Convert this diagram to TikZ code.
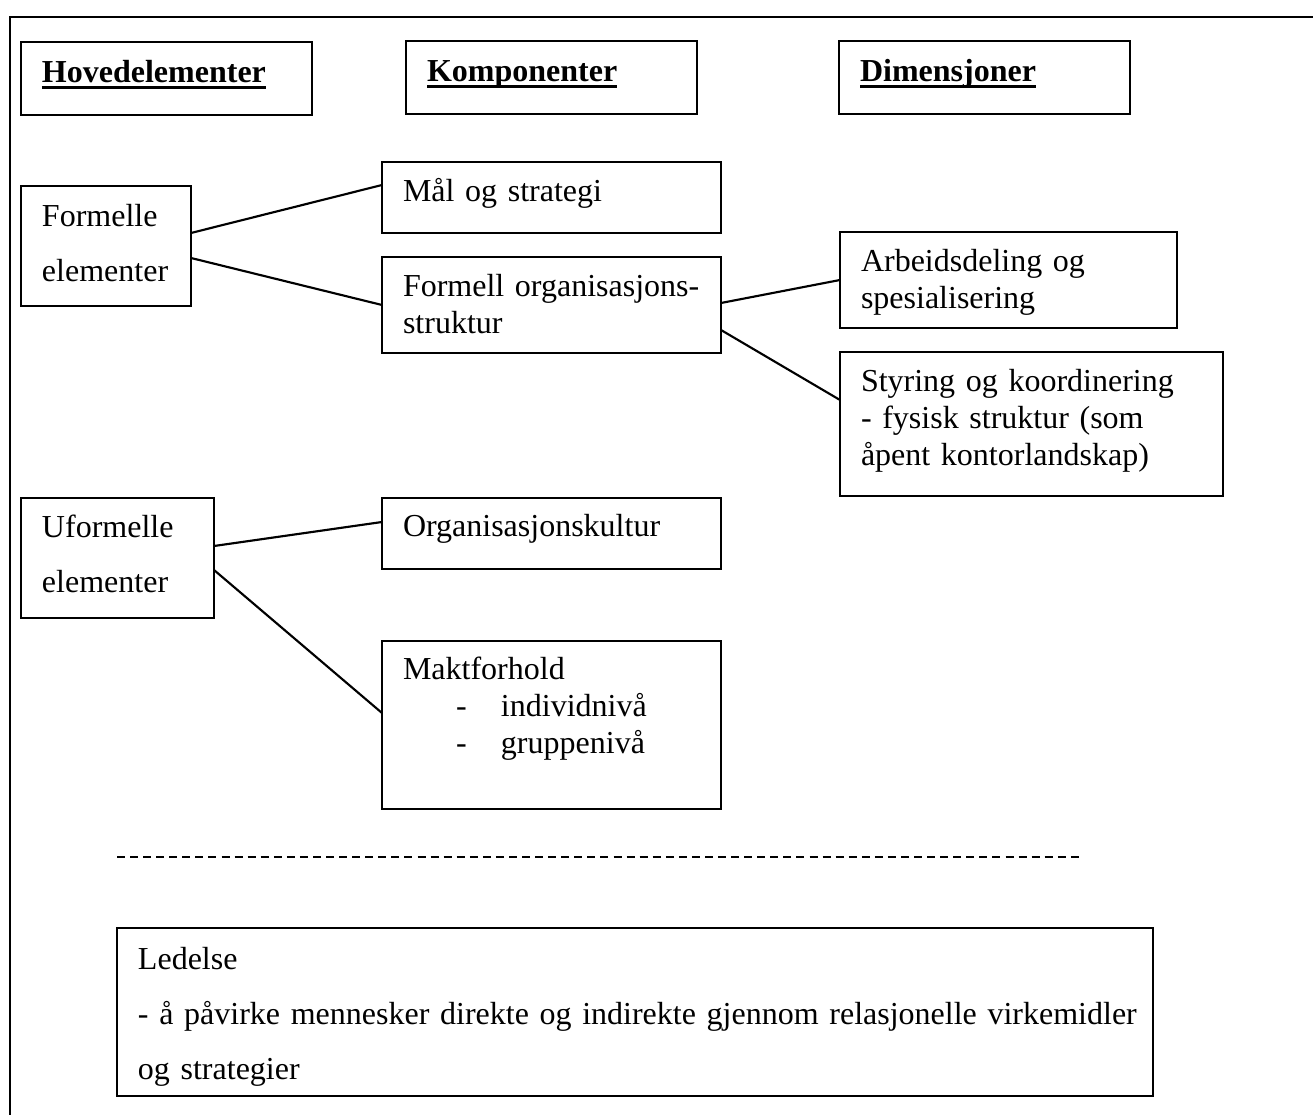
\documentclass[tikz,border=0pt]{standalone}
\usepackage{fontspec}
\setmainfont{Liberation Serif}
\usepackage{tikz}
\usetikzlibrary{calc}
\newlength{\pxu}
\setlength{\pxu}{0.375pt}
\newsavebox{\ulbox}
\newcommand{\ulword}[1]{\sbox{\ulbox}{\textbf{#1}}\rlap{\usebox{\ulbox}}\rule[-2.4pt]{\wd\ulbox}{1.1pt}}
\hyphenpenalty=10000
\exhyphenpenalty=10000
\hbadness=10000
\hfuzz=20pt

\begin{document}
\begin{tikzpicture}[
  x=0.375pt, y=-0.375pt,
  box/.style={
    draw, line width=1pt, anchor=north west,
    inner xsep=21\pxu, inner ysep=0pt, outer sep=0pt,
    align=left, text height=40\pxu,
    font=\fontsize{12}{13.7}\selectfont
  },
  headbox/.style={box, text width=249\pxu, text height=41\pxu, text depth=32\pxu},
  twoline/.style={font=\fontsize{12}{20.6}\selectfont},
  link/.style={line width=0.8pt},
  frameline/.style={line width=1.1pt},
  splitline/.style={line width=0.8pt, dash pattern=on 3pt off 1.9pt},
]
\useasboundingbox (0,0) rectangle (1313,1115);
% Frame
\draw[frameline] (10,1115) -- (10,17) -- (1313,17);
% Header row
\node[headbox] (hoved) at (21,42)  {\ulword{Hovedelementer}};
\node[headbox] (komp)  at (406,41) {\ulword{Komponenter}};
\node[headbox] (dim)   at (839,41) {\ulword{Dimensjoner}};
% Formelle elementer
\node[box, twoline, text width=128\pxu, text height=41\pxu, text depth=79\pxu] (formelle) at (21,186) {Formelle\\elementer};
\node[box, text width=297\pxu, text depth=31\pxu] (mal) at (382,162) {Mål og strategi};
\node[box, text width=297\pxu, text depth=56\pxu] (formorg) at (382,257) {Formell organisasjons-\\struktur};
\node[box, text width=295\pxu, text depth=56\pxu] (arb) at (840,232) {Arbeidsdeling og\\spesialisering};
\node[box, text width=341\pxu, text depth=104\pxu] (styr) at (840,352) {Styring og koordinering\\- fysisk struktur (som\\åpent kontorlandskap)};
% Uformelle elementer
\node[box, twoline, text width=151\pxu, text depth=80\pxu] (uform) at (21,498) {Uformelle\\elementer};
\node[box, text width=297\pxu, text height=39\pxu, text depth=32\pxu] (orgk) at (382,498) {Organisasjonskultur};
\node[box, text width=297\pxu, text height=39\pxu, text depth=129\pxu] (makt) at (382,641)
  {Maktforhold\\\hspace*{53\pxu}\makebox[45\pxu][l]{-}individnivå\\\hspace*{53\pxu}\makebox[45\pxu][l]{-}gruppenivå};
% Links
\draw[link] ($(formelle.east)+(0,-13)$) -- ($(mal.west)+(0,-12.5)$);
\draw[link] ($(formelle.east)+(0,12)$) -- (formorg.west);
\draw[link] ($(formorg.east)+(0,-2)$) -- (arb.west);
\draw[link] ($(formorg.east)+(0,25)$) -- ($(styr.west)+(0,-24)$);
\draw[link] ($(uform.east)+(0,-12)$) -- ($(orgk.west)+(0,-11.5)$);
\draw[link] ($(uform.east)+(0,12)$) -- ($(makt.west)+(0,-12)$);
% Separator
\coordinate (sepL) at (117,857);
\coordinate (sepR) at (1080,857);
\draw[splitline] (sepL) -- (sepR);
% Ledelse
\node[box, twoline, text width=994\pxu, text height=42\pxu, text depth=126\pxu] (ledelse) at (117,928)
  {Ledelse\\\mbox{- å påvirke mennesker direkte og indirekte gjennom relasjonelle virkemidler}\\og strategier};
\end{tikzpicture}
\end{document}
